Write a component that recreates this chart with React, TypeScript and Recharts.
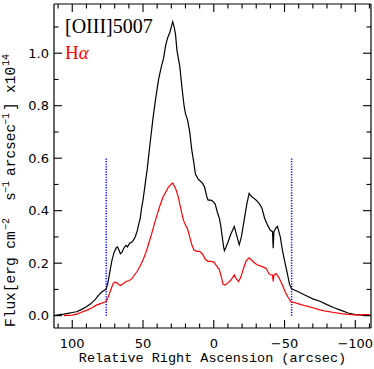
import { Line, LineChart, ReferenceLine, XAxis, YAxis } from "recharts";

// [OIII]5007 cut: relative RA (arcsec) and flux (x1e14)
const oiiiRA = [
  113, 110, 106, 103, 100, 97, 94, 90, 87, 84, 81, 79, 77, 76, 75, 74, 73, 72, 70.5, 69, 68, 67, 66, 65, 63.5, 62,
  61, 59.5, 58, 57, 55.5, 54, 53, 52, 51, 50, 48.5, 47, 45, 43, 41, 39, 37, 35.5, 34, 32.5, 31, 30, 29, 28, 27, 26,
  24, 22.5, 21, 20, 18.5, 17, 15.5, 14, 13, 12, 11, 10, 8, 6.5, 5, 4, 2, 0.5, -1, -2.5, -4, -5, -6, -7, -7.5, -8.5,
  -10, -12, -14.5, -16, -18, -19.5, -21.5, -23.5, -25, -26.5, -28.5, -30, -32, -34, -36, -38, -40, -41.5, -42,
  -42.5, -44, -45, -47, -48.5, -50, -52, -53.5, -55, -57, -60, -65, -70, -75, -80, -85, -90, -95, -100, -105, -110,
];
const oiiiFlux = [
  0.0, 0.003, 0.006, 0.009, 0.012, 0.015, 0.022, 0.034, 0.045, 0.06, 0.08, 0.091, 0.098, 0.103, 0.12, 0.15, 0.18,
  0.21, 0.24, 0.258, 0.262, 0.25, 0.236, 0.24, 0.258, 0.268, 0.262, 0.276, 0.28, 0.286, 0.3, 0.325, 0.35, 0.37,
  0.41, 0.44, 0.5, 0.56, 0.657, 0.75, 0.83, 0.9, 0.95, 0.98, 1.03, 1.06, 1.08, 1.1, 1.12, 1.1, 1.07, 1.01, 0.95,
  0.87, 0.8, 0.77, 0.745, 0.7, 0.63, 0.58, 0.54, 0.53, 0.52, 0.515, 0.505, 0.49, 0.455, 0.44, 0.44, 0.435, 0.425,
  0.395, 0.37, 0.34, 0.3, 0.26, 0.248, 0.26, 0.28, 0.31, 0.34, 0.31, 0.27, 0.3, 0.365, 0.43, 0.466, 0.455, 0.447,
  0.44, 0.428, 0.41, 0.37, 0.345, 0.325, 0.32, 0.257, 0.32, 0.335, 0.34, 0.3, 0.25, 0.21, 0.16, 0.12, 0.102, 0.098,
  0.09, 0.077, 0.064, 0.055, 0.042, 0.03, 0.02, 0.01, 0.004, 0.002, 0.002,
];

// H-alpha cut
const haRA = [
  106, 100, 97, 94, 90, 86, 83, 80, 77, 76, 75, 74, 73, 72, 71, 70, 68.5, 67, 66, 64, 62, 60, 58, 56, 54, 52, 50, 48,
  46, 44, 42, 40, 38, 36, 34, 32, 30, 29, 28, 26.5, 25, 23, 21.5, 20, 18.5, 17, 15.5, 14, 12, 10, 8, 6, 4, 2, 0, -2,
  -4, -5.5, -6.5, -8, -10, -12, -14.5, -16, -17.5, -19, -21, -23, -25, -27, -29, -31, -33, -35, -37, -39, -40.5,
  -41.5, -42, -42.5, -44, -46, -48.5, -50.5, -52.5, -54.5, -57, -60, -65, -70, -75, -80, -85, -90, -95, -100, -105,
  -110,
];
const haFlux = [
  0.0, 0.002, 0.006, 0.012, 0.02, 0.03, 0.04, 0.046, 0.052, 0.055, 0.065, 0.08, 0.095, 0.11, 0.123, 0.128, 0.125,
  0.118, 0.115, 0.122, 0.13, 0.133, 0.14, 0.155, 0.17, 0.19, 0.212, 0.24, 0.275, 0.31, 0.35, 0.385, 0.42, 0.45, 0.47,
  0.49, 0.502, 0.505, 0.495, 0.478, 0.45, 0.4, 0.365, 0.345, 0.33, 0.3, 0.27, 0.25, 0.245, 0.245, 0.235, 0.215,
  0.207, 0.207, 0.204, 0.19, 0.175, 0.145, 0.12, 0.117, 0.125, 0.135, 0.155, 0.14, 0.13, 0.145, 0.18, 0.21, 0.22,
  0.21, 0.2, 0.193, 0.19, 0.185, 0.18, 0.16, 0.155, 0.155, 0.13, 0.155, 0.16, 0.145, 0.117, 0.09, 0.07, 0.053, 0.05,
  0.045, 0.037, 0.03, 0.022, 0.016, 0.012, 0.008, 0.005, 0.003, 0.003, 0.004,
];

// dotted slit-edge markers
const markerRA = [76, -55];
const markerTop = 0.6;

const xTicks = [110, 100, 90, 80, 70, 60, 50, 40, 30, 20, 10, 0, -10, -20, -30, -40, -50, -60, -70, -80, -90, -100, -110];
const xLabelled = [100, 50, 0, -50, -100];
const yTicks = [0, 0.1, 0.2, 0.3, 0.4, 0.5, 0.6, 0.7, 0.8, 0.9, 1.0, 1.1];
const yLabelled = [0, 0.2, 0.4, 0.6, 0.8, 1.0];

const oiii = oiiiRA.map((x, i) => ({ x, y: oiiiFlux[i] }));
const ha = haRA.map((x, i) => ({ x, y: haFlux[i] }));

const X_DOMAIN: [number, number] = [-111.1, 112.9];
const Y_DOMAIN: [number, number] = [-0.047, 1.1875];
const MAJOR = 8;
const MINOR = 4.5;
const tickFont = "'DejaVu Sans', sans-serif";
const monoFont = "'Liberation Mono', monospace";

const fmtX = (v: number) => (v < 0 ? `\u2212${-v}` : `${v}`);
const isXMajor = (v: number) => xLabelled.includes(v);
const isYMajor = (v: number) => yLabelled.some((t) => Math.abs(t - v) < 1e-6);

function BottomTick(props: any) {
  const { x, y, payload } = props;
  const major = isXMajor(payload.value);
  return (
    <g>
      <line x1={x} x2={x} y1={y} y2={y - (major ? MAJOR : MINOR)} stroke="#000" strokeWidth={1.1} />
      {major && (
        <text x={x} y={y + 20} textAnchor="middle" fontFamily={tickFont} fontSize={13} fill="#000">
          {fmtX(payload.value)}
        </text>
      )}
    </g>
  );
}

function TopTick(props: any) {
  const { x, y, payload } = props;
  const major = isXMajor(payload.value);
  return <line x1={x} x2={x} y1={y} y2={y + (major ? MAJOR : MINOR)} stroke="#000" strokeWidth={1.1} />;
}

function LeftTick(props: any) {
  const { x, y, payload } = props;
  const major = isYMajor(payload.value);
  return (
    <g>
      <line x1={x} x2={x + (major ? MAJOR : MINOR)} y1={y} y2={y} stroke="#000" strokeWidth={1.1} />
      {major && (
        <text x={x - 5} y={y + 4.7} textAnchor="end" fontFamily={tickFont} fontSize={13} fill="#000">
          {payload.value.toFixed(1)}
        </text>
      )}
    </g>
  );
}

function RightTick(props: any) {
  const { x, y, payload } = props;
  const major = isYMajor(payload.value);
  return <line x1={x} x2={x - (major ? MAJOR : MINOR)} y1={y} y2={y} stroke="#000" strokeWidth={1.1} />;
}

// rotated y title, laid out along the axis from the bottom up
function YTitle() {
  const sup = { fontSize: 10, y: -5.5 };
  return (
    <text transform="translate(14.5, 327) rotate(-90)" fontFamily={monoFont} fontSize={14.5} fill="#000">
      <tspan x={0} y={0}>Flux[erg cm</tspan>
      <tspan x={97} {...sup}>{"\u22122"}</tspan>
      <tspan x={126} y={0}>s</tspan>
      <tspan x={134} {...sup}>{"\u22121"}</tspan>
      <tspan x={151} y={0}>arcsec</tspan>
      <tspan x={202} {...sup}>{"\u22121"}</tspan>
      <tspan x={216} y={0}>]</tspan>
      <tspan x={234} y={0}>x10</tspan>
      <tspan x={261} {...sup}>14</tspan>
    </text>
  );
}

export default function App() {
  return (
    <div style={{ position: "absolute", left: 0, top: 0, background: "#fff" }}>
      <LineChart width={374} height={369} margin={{ top: 3, right: 2, bottom: 0, left: 0 }}>
        <XAxis
          xAxisId="b"
          dataKey="x"
          type="number"
          domain={X_DOMAIN}
          reversed
          allowDataOverflow
          ticks={xTicks}
          interval={0}
          height={41}
          tickSize={0}
          tickMargin={0}
          tickLine={false}
          tick={<BottomTick />}
          axisLine={{ stroke: "#000", strokeWidth: 1.2 }}
          label={{
            value: "Relative Right Ascension (arcsec)",
            position: "insideBottom",
            offset: 7,
            fontFamily: monoFont,
            fontSize: 13.5,
            fill: "#000",
          }}
        />
        <XAxis
          xAxisId="t"
          orientation="top"
          dataKey="x"
          type="number"
          domain={X_DOMAIN}
          reversed
          allowDataOverflow
          ticks={xTicks}
          interval={0}
          height={1}
          tickSize={0}
          tickMargin={0}
          tickLine={false}
          tick={<TopTick />}
          axisLine={{ stroke: "#000", strokeWidth: 1.2 }}
        />
        <YAxis
          yAxisId="l"
          type="number"
          domain={Y_DOMAIN}
          allowDataOverflow
          ticks={yTicks}
          interval={0}
          width={54}
          tickSize={0}
          tickMargin={0}
          tickLine={false}
          tick={<LeftTick />}
          axisLine={{ stroke: "#000", strokeWidth: 1.2 }}
        />
        <YAxis
          yAxisId="r"
          orientation="right"
          type="number"
          domain={Y_DOMAIN}
          allowDataOverflow
          ticks={yTicks}
          interval={0}
          width={1}
          tickSize={0}
          tickMargin={0}
          tickLine={false}
          tick={<RightTick />}
          axisLine={{ stroke: "#000", strokeWidth: 1.2 }}
        />
        {markerRA.map((ra) => (
          <ReferenceLine
            key={ra}
            xAxisId="b"
            yAxisId="l"
            segment={[
              { x: ra, y: 0 },
              { x: ra, y: markerTop },
            ]}
            stroke="#0000ff"
            strokeWidth={1.5}
            strokeDasharray="1.2 1.4"
          />
        ))}
        <Line
          xAxisId="b"
          yAxisId="l"
          data={oiii}
          dataKey="y"
          type="linear"
          stroke="#000"
          strokeWidth={1.2}
          dot={false}
          isAnimationActive={false}
        />
        <Line
          xAxisId="b"
          yAxisId="l"
          data={ha}
          dataKey="y"
          type="linear"
          stroke="#ff0000"
          strokeWidth={1.2}
          dot={false}
          isAnimationActive={false}
        />
        <YTitle />
        <text x={65} y={33} fontFamily="'Liberation Serif', serif" fontSize={20} fill="#000">
          [OIII]5007
        </text>
        <text x={65} y={59} fontFamily="'Liberation Serif', serif" fontSize={19} fill="#ff0000">
          H<tspan fontStyle="italic">α</tspan>
        </text>
      </LineChart>
    </div>
  );
}
